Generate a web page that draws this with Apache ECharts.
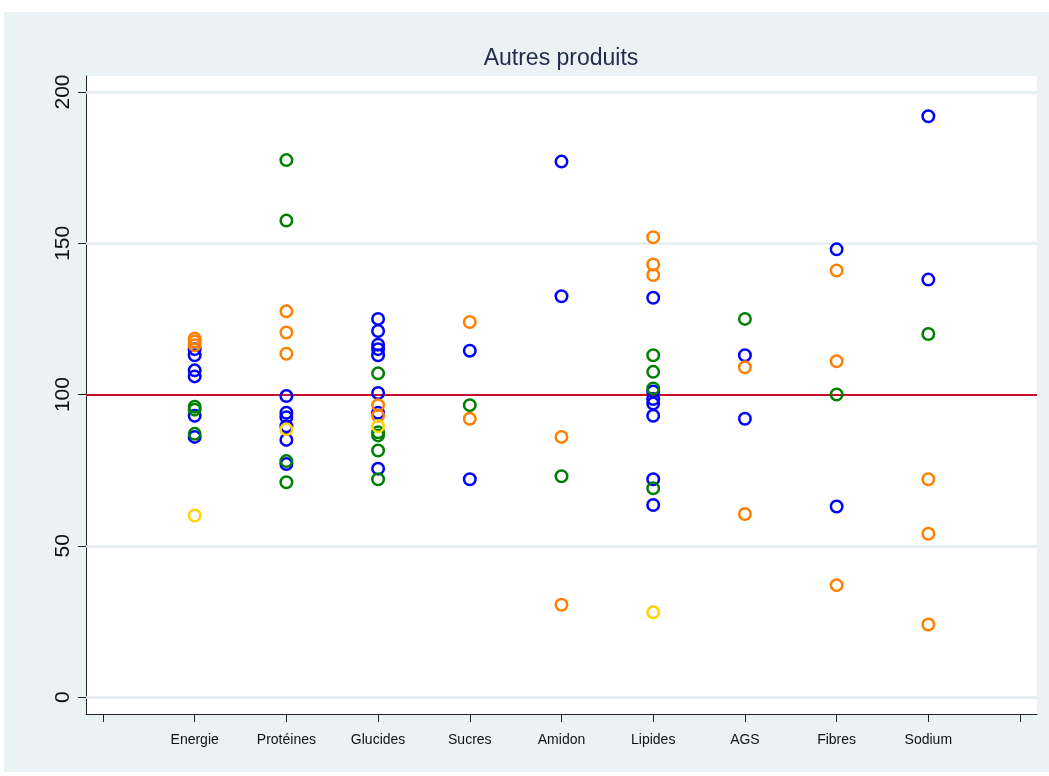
<!DOCTYPE html>
<html>
<head>
  <meta charset="utf-8" />
  <title>Autres produits</title>
  <style>
    html, body { margin: 0; padding: 0; background: #fff; }
    #mapBox {
      position: absolute;
      left: 4px;
      top: 12px;
      width: 1045px;
      height: 760px;
      background: #eaf2f3;
    }
  </style>
</head>
<body>
  <div id="mapBox"></div>
  <script src="https://cdn.jsdelivr.net/npm/echarts@6/dist/echarts.min.js"></script>
  <script>
    // categories on the x axis (positions 1..9)
    var categories = ['Energie', 'Protéines', 'Glucides', 'Sucres', 'Amidon', 'Lipides', 'AGS', 'Fibres', 'Sodium'];
    var yTicks = [0, 50, 100, 150, 200];
    var xTicks = [0, 1, 2, 3, 4, 5, 6, 7, 8, 9, 10];
    var refValue = 100;

    // values per category, one list per colour
    var blueValues = [
      [115, 113, 108, 106, 93, 86],
      [99.5, 94, 92.5, 89.5, 85, 77],
      [125, 121, 116.5, 115, 113, 100.5, 94, 75.5],
      [114.5, 72],
      [177, 132.5],
      [132, 101, 98.5, 97, 93, 72, 63.5],
      [113, 92],
      [148, 63],
      [192, 138]
    ];
    var greenValues = [
      [96, 95, 87],
      [177.5, 157.5, 78, 71],
      [107, 87.5, 86.5, 81.5, 72],
      [96.5],
      [73],
      [113, 107.5, 102, 69],
      [125],
      [100],
      [120]
    ];
    var orangeValues = [
      [118.5, 117.5, 116.3],
      [127.5, 120.5, 113.5],
      [96.5, 93],
      [124, 92],
      [86, 30.5],
      [152, 143, 139.5],
      [109, 60.5],
      [141, 111, 37],
      [72, 54, 24]
    ];
    var yellowValues = [
      [60],
      [88.5],
      [89.5],
      [],
      [],
      [28],
      [],
      [],
      []
    ];

    function toPoints(lists) {
      var pts = [];
      for (var i = 0; i < lists.length; i++) {
        for (var j = 0; j < lists[i].length; j++) {
          pts.push([i + 1, lists[i][j]]);
        }
      }
      return pts;
    }

    function ringSeries(name, color, lists) {
      return {
        name: name,
        type: 'scatter',
        z: 3,
        symbol: 'circle',
        symbolSize: 11.5,
        itemStyle: { color: 'rgba(0,0,0,0)', borderColor: color, borderWidth: 2.5, opacity: 1 },
        emphasis: { disabled: true },
        data: toPoints(lists)
      };
    }

    var myChart = echarts.init(document.getElementById('mapBox'));
    var option = {
      backgroundColor: '#eaf2f3',
      animation: false,
      graphic: [{
        type: 'text',
        x: 557,
        y: 35,
        style: {
          text: 'Autres produits',
          fontFamily: 'Liberation Sans',
          fontSize: 23,
          fill: '#1e2b4c',
          textAlign: 'center',
          textVerticalAlign: 'top'
        }
      }],
      grid: {
        left: 82, right: 12, top: 64, bottom: 58,
        show: true,
        backgroundColor: '#fff',
        borderWidth: 0
      },
      xAxis: {
        type: 'value',
        min: -0.185,
        max: 10.185,
        splitLine: { show: false },
        axisLine: { show: true, onZero: false, lineStyle: { color: '#222', width: 1 } },
        axisTick: { show: true, customValues: xTicks, length: 8, lineStyle: { color: '#222', width: 1 } },
        axisLabel: {
          customValues: [1, 2, 3, 4, 5, 6, 7, 8, 9],
          formatter: function (v) { return categories[v - 1] || ''; },
          fontFamily: 'Liberation Sans',
          fontSize: 14,
          color: '#111',
          margin: 19
        }
      },
      yAxis: {
        type: 'value',
        min: -5.6,
        max: 205.3,
        splitLine: { show: false },
        axisLine: { show: true, onZero: false, lineStyle: { color: '#222', width: 1 } },
        axisTick: { show: true, customValues: yTicks, length: 8, lineStyle: { color: '#222', width: 1 } },
        axisLabel: {
          customValues: yTicks,
          rotate: 90,
          fontFamily: 'Liberation Sans',
          fontSize: 21,
          color: '#111',
          margin: 12
        }
      },
      series: [
        {
          type: 'scatter',
          z: 1,
          data: [],
          markLine: {
            z: 1,
            silent: true,
            symbol: 'none',
            label: { show: false },
            lineStyle: { type: 'solid', color: '#e4edef', width: 2.5 },
            data: yTicks.filter(function (t) { return t !== refValue; }).map(function (t) { return { yAxis: t }; })
          }
        },
        {
          type: 'scatter',
          z: 2,
          data: [],
          markLine: {
            z: 2,
            silent: true,
            symbol: 'none',
            label: { show: false },
            lineStyle: { type: 'solid', color: '#c8102e', width: 2.2 },
            data: [{ yAxis: refValue }]
          }
        },
        ringSeries('blue', '#0000ff', blueValues),
        ringSeries('green', '#008000', greenValues),
        ringSeries('orange', '#ff8000', orangeValues),
        ringSeries('yellow', '#ffd200', yellowValues)
      ]
    };
    myChart.setOption(option);
  </script>
</body>
</html>
